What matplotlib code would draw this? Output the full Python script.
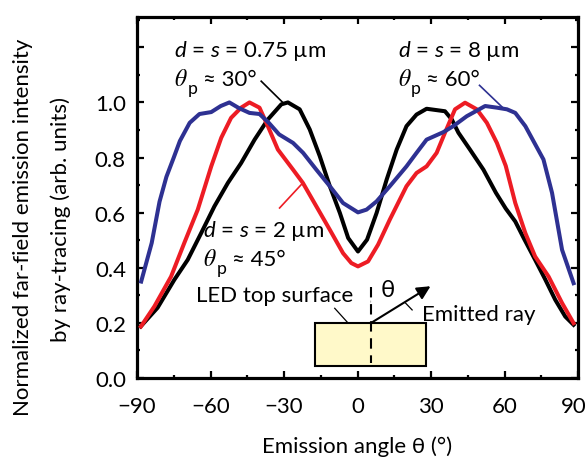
import matplotlib
matplotlib.use("Agg")
import matplotlib.pyplot as plt
from matplotlib.patches import Rectangle, Arc
from matplotlib.ticker import MultipleLocator, FixedLocator
from matplotlib.transforms import ScaledTranslation

plt.rcParams['font.family'] = ['Lato', 'DejaVu Sans']
plt.rcParams['mathtext.fontset'] = 'custom'
plt.rcParams['mathtext.rm'] = 'Lato'
plt.rcParams['mathtext.it'] = 'Lato:italic'

# ---------------- data ----------------
black_x = [-88.5, -81.6, -74.8, -69.3, -63.8, -58.4, -52.9, -47.5, -42.0, -36.6, -31.1, -28.4,
           -23.6, -19.5, -15.4, -11.3, -7.2, -3.8, 0.2, 3.9, 7.8, 11.9, 16.0, 20.0, 24.1, 28.2,
           35.7, 38.5, 41.2, 45.9, 51.4, 56.5, 60.5, 64.4, 68.0, 72.5, 76.5, 80.7, 84.8, 88.2]
black_y = [0.187, 0.255, 0.356, 0.429, 0.526, 0.623, 0.708, 0.780, 0.865, 0.938, 0.993, 1.000,
           0.975, 0.902, 0.805, 0.696, 0.599, 0.508, 0.459, 0.502, 0.599, 0.720, 0.829, 0.914,
           0.956, 0.977, 0.968, 0.938, 0.890, 0.829, 0.756, 0.672, 0.615, 0.568, 0.505, 0.429,
           0.360, 0.284, 0.223, 0.193]

red_x = [-88.4, -82.9, -76.1, -70.7, -65.2, -59.7, -55.6, -51.6, -47.5, -44.1, -40.0, -36.6,
         -32.5, -26.3, -22.3, -16.8, -11.3, -5.9, -2.5, 0.2, 4.3, 8.4, 13.2, 20.0, 24.1, 28.2,
         32.3, 35.7, 39.8, 43.9, 48.7, 52.8, 56.9, 60.5, 64.4, 68.5, 72.5, 78.0, 83.5, 88.2]
red_y = [0.187, 0.260, 0.368, 0.490, 0.611, 0.768, 0.872, 0.944, 0.981, 1.000, 0.981, 0.914,
         0.829, 0.756, 0.708, 0.623, 0.538, 0.453, 0.417, 0.405, 0.423, 0.484, 0.575, 0.696,
         0.744, 0.768, 0.817, 0.890, 0.975, 0.999, 0.975, 0.926, 0.853, 0.770, 0.635, 0.526,
         0.441, 0.368, 0.272, 0.199]

blue_x = [-88.3, -84.0, -80.8, -78.0, -75.0, -72.5, -68.5, -64.5, -59.7, -55.8, -52.3, -48.5,
          -44.1, -40.0, -36.2, -32.0, -26.3, -22.2, -16.8, -11.3, -5.9, 0.2, 3.7, 7.8, 13.2,
          20.0, 24.1, 28.2, 35.0, 39.1, 44.6, 52.1, 56.9, 61.0, 64.4, 68.5, 75.9, 79.4, 83.5, 88.2]
blue_y = [0.350, 0.490, 0.640, 0.730, 0.800, 0.860, 0.926, 0.958, 0.965, 0.987, 1.000, 0.980,
          0.962, 0.958, 0.926, 0.884, 0.853, 0.817, 0.756, 0.696, 0.635, 0.601, 0.611, 0.641,
          0.696, 0.768, 0.817, 0.865, 0.892, 0.914, 0.950, 0.987, 0.981, 0.975, 0.962, 0.914,
          0.793, 0.672, 0.465, 0.344]

x_ticks = [-90, -60, -30, 0, 30, 60, 90]
x_tick_labels = ['\u221290', '\u221260', '\u221230', '0', '30', '60', '90']
y_ticks = [0.0, 0.2, 0.4, 0.6, 0.8, 1.0, 1.2]
y_tick_labels = ['0.0', '0.2', '0.4', '0.6', '0.8', '1.0', '']

BLACK = '#000000'
RED = '#ED1C24'
BLUE = '#2E3192'

fig = plt.figure(figsize=(5.87, 4.64), dpi=100)
ax = fig.add_axes([137/587, 1-379/464, 441/587, 361/464])

LW = 2.9
ax.plot(black_x, black_y, color=BLACK, lw=LW, zorder=3)
ax.plot(red_x, red_y, color=RED, lw=LW, zorder=3)
ax.plot(blue_x, blue_y, color=BLUE, lw=LW, zorder=3)

ax.set_xlim(-90, 90)
ax.set_ylim(0, 1.31)
ax.xaxis.set_major_locator(FixedLocator(x_ticks))
ax.set_xticklabels(x_tick_labels)
ax.xaxis.set_minor_locator(MultipleLocator(15))
ax.yaxis.set_major_locator(FixedLocator(y_ticks))
ax.set_yticklabels(y_tick_labels)
ax.yaxis.set_minor_locator(MultipleLocator(0.1))

FS = 16
for s in ax.spines.values():
    s.set_linewidth(2.3)
ax.tick_params(which='both', direction='in', top=True, right=True, width=1.6,
               labelsize=FS, colors='black')
ax.tick_params(which='major', length=5)
ax.tick_params(which='minor', length=2.5)
ax.tick_params(axis='x', pad=13)
ax.tick_params(axis='y', pad=8)

# keep the last x tick label inside the figure
last = ax.get_xticklabels()[-1]
last.set_transform(last.get_transform() + ScaledTranslation(-4/100, 0, fig.dpi_scale_trans))

ax.set_xlabel('Emission angle \u03b8 (\u00b0)', fontsize=FS, labelpad=14)

fig.text(23/587, 1-227/464, 'Normalized far-field emission intensity', rotation=90,
         ha='center', va='center', fontsize=FS)
fig.text(61/587, 1-220/464, 'by ray-tracing (arb. units)', rotation=90,
         ha='center', va='center', fontsize=FS)


def theta_p(x_th, x_p, x_eq, y, angle):
    ax.text(x_th, y, r'$\theta$', fontsize=FS + 1, va='baseline', ha='left',
            math_fontfamily='stix')
    ax.text(x_p, y - 0.029, 'p', fontsize=FS * 0.8, va='baseline', ha='left')
    ax.text(x_eq, y, '\u2248 ' + angle, fontsize=FS, va='baseline', ha='left')


ax.text(-74.8, 1.168, r'$d$ = $s$ = 0.75 µm', fontsize=FS, va='baseline', ha='left')
theta_p(-74.8, -69.4, -63.2, 1.065, '30°')
ax.text(16.5, 1.168, r'$d$ = $s$ = 8 µm', fontsize=FS, va='baseline', ha='left')
theta_p(16.5, 21.8, 28.0, 1.065, '60°')
ax.text(-62.9, 0.514, r'$d$ = $s$ = 2 µm', fontsize=FS, va='baseline', ha='left')
theta_p(-62.9, -57.4, -51.2, 0.411, '45°')
ax.text(-65.9, 0.281, 'LED top surface', fontsize=FS, va='baseline', ha='left')
ax.text(9.6, 0.296, '\u03b8', fontsize=FS + 1, va='baseline', ha='left')
ax.text(26.2, 0.211, 'Emitted ray', fontsize=FS, va='baseline', ha='left')

# leader lines
ax.plot([-39.3, -30.4], [1.077, 0.999], color=BLACK, lw=1.2, zorder=4)
ax.plot([49.8, 59.3], [1.062, 0.981], color=BLUE, lw=1.2, zorder=4)
ax.plot([-31.8, -22.3], [0.617, 0.708], color=RED, lw=1.2, zorder=4)
ax.plot([-9.3, -3.9], [0.253, 0.200], color=BLACK, lw=0.9, zorder=4)
ax.plot([19.6, 22.3], [0.272, 0.247], color=BLACK, lw=0.9, zorder=4)

# LED inset
ax.add_patch(Rectangle((-17.2, 0.044), 45.1, 0.155, facecolor='#FFF9C9',
                       edgecolor='black', lw=1.5, zorder=4))
ax.plot([5.4, 5.4], [0.331, 0.055], color='black', lw=1.5, dashes=(5, 3.2), zorder=5)
ax.annotate('', xy=(29.8, 0.333), xytext=(5.4, 0.199),
            arrowprops=dict(arrowstyle='-|>', color='black', lw=1.5,
                            mutation_scale=20, shrinkA=0, shrinkB=0), zorder=5)
r_px = 21.5
ax.add_patch(Arc((5.4, 0.199), 2*r_px/2.444, 2*r_px/275, theta1=31.5, theta2=90,
                 color='black', lw=1.5, zorder=5))

fig.savefig('out.png', dpi=100)
